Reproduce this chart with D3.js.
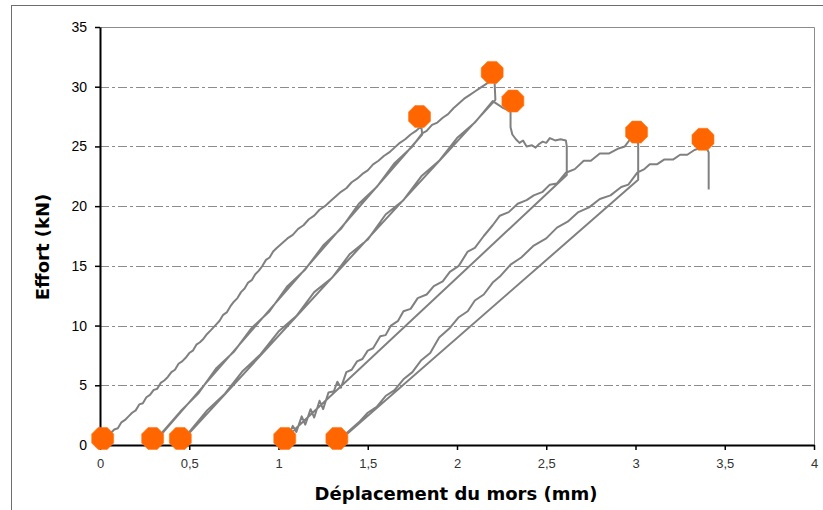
<!DOCTYPE html>
<html><head><meta charset="utf-8">
<script src="https://cdn.jsdelivr.net/npm/d3@7"></script>
<style>html,body{margin:0;padding:0;background:#fff;}svg{display:block;}</style>
</head><body>
<svg id="chart" width="823" height="510"></svg>
<script>
// ---- data (kN vs mm) ----
const load1 = [[0.04,0.7],[0.06,1.0],[0.08,1.3],[0.10,1.4],[0.12,1.9],[0.14,2.1],[0.16,2.4],[0.18,2.7],[0.20,2.9],[0.22,3.4],[0.24,3.5],[0.26,4.0],[0.28,4.2],[0.30,4.6],[0.32,4.7],[0.34,5.2],[0.36,5.4],[0.38,5.7],[0.40,6.1],[0.42,6.3],[0.44,6.8],[0.46,7.0],[0.48,7.3],[0.50,7.7],[0.52,7.9],[0.54,8.4],[0.56,8.6],[0.58,8.9],[0.60,9.3],[0.62,9.6],[0.645,10.0],[0.67,10.4],[0.69,10.9],[0.71,11.1],[0.73,11.6],[0.75,12.0],[0.77,12.3],[0.79,12.8],[0.81,13.1],[0.83,13.6],[0.85,13.8],[0.87,14.3],[0.89,14.6],[0.91,15.0],[0.93,15.5],[0.95,15.7],[0.97,16.2],[0.99,16.5],[1.02,16.9],[1.05,17.3],[1.08,17.6],[1.11,18.1],[1.14,18.4],[1.17,18.9],[1.20,19.2],[1.23,19.7],[1.26,20.0],[1.29,20.4],[1.32,20.8],[1.35,21.2],[1.38,21.5],[1.41,22.0],[1.44,22.3],[1.47,22.7],[1.50,23.0],[1.53,23.5],[1.56,23.8],[1.59,24.2],[1.62,24.5],[1.65,24.9],[1.68,25.3],[1.71,25.6],[1.74,26.0],[1.77,26.3],[1.80,26.7],[1.805,26.0]];
const unload1 = [[1.805,26.0],[0.35,1.0]];
const load2 = [[0.34,0.9],[0.45,2.8],[0.55,4.3],[0.65,6.4],[0.75,7.8],[0.85,9.8],[0.95,11.2],[1.05,13.3],[1.15,14.7],[1.25,16.7],[1.35,18.1],[1.45,20.2],[1.55,21.6],[1.65,23.6],[1.75,25.0],[1.805,26.1],[1.83,26.3],[1.86,26.8],[1.89,27.0],[1.92,27.4],[1.95,27.7],[1.98,28.2],[2.01,28.6],[2.04,29.0],[2.07,29.3],[2.10,29.6],[2.13,29.9],[2.16,30.2],[2.19,30.5],[2.21,30.6],[2.215,28.9]];
const unload2 = [[2.215,28.9],[0.50,1.0]];
const load3 = [[0.49,0.9],[0.60,2.9],[0.70,4.3],[0.80,6.2],[0.90,7.6],[1.00,9.5],[1.10,10.8],[1.20,12.8],[1.30,14.0],[1.40,16.0],[1.50,17.2],[1.60,19.3],[1.70,20.5],[1.80,22.5],[1.90,23.8],[2.00,25.7],[2.10,27.0],[2.20,28.8],[2.23,28.5],[2.26,28.2],[2.29,28.0],[2.30,27.9],[2.30,26.6],[2.31,26.0],[2.33,25.6],[2.35,25.3],[2.37,25.5],[2.39,25.0],[2.42,25.1],[2.44,24.9],[2.46,25.2],[2.48,25.4],[2.50,25.3],[2.52,25.7],[2.55,25.5],[2.58,25.6],[2.61,25.5],[2.615,25.0],[2.615,22.6]];
const unload3 = [[2.615,22.6],[1.07,1.0]];
const load4 = [[1.06,0.9],[1.08,1.6],[1.10,1.1],[1.13,2.4],[1.15,1.7],[1.18,3.0],[1.20,2.3],[1.23,3.7],[1.25,3.0],[1.28,4.4],[1.31,4.5],[1.33,5.3],[1.35,4.8],[1.38,6.1],[1.41,6.3],[1.44,7.0],[1.47,7.2],[1.50,7.9],[1.53,8.1],[1.57,9.1],[1.60,9.2],[1.63,10.0],[1.67,10.4],[1.70,11.2],[1.74,11.4],[1.78,12.3],[1.83,12.6],[1.87,13.3],[1.92,13.7],[1.96,14.5],[2.01,15.0],[2.06,16.2],[2.10,16.5],[2.15,17.5],[2.20,18.4],[2.24,19.2],[2.29,19.5],[2.34,20.2],[2.39,20.5],[2.43,20.9],[2.48,21.2],[2.52,21.8],[2.56,21.9],[2.61,22.8],[2.66,23.1],[2.71,23.8],[2.75,23.8],[2.80,24.4],[2.85,24.4],[2.90,24.8],[2.94,25.0],[2.97,25.6],[3.00,25.7],[3.015,25.2],[3.015,22.2]];
const unload4 = [[3.015,22.2],[1.39,1.0]];
const load5 = [[1.37,0.9],[1.39,1.1],[1.45,1.9],[1.50,2.7],[1.55,3.2],[1.60,4.1],[1.65,4.6],[1.70,5.5],[1.75,6.1],[1.80,7.1],[1.85,7.7],[1.90,9.0],[1.96,9.8],[2.01,10.7],[2.06,11.2],[2.10,12.1],[2.15,12.6],[2.20,13.6],[2.24,14.1],[2.30,15.1],[2.36,15.7],[2.43,16.7],[2.50,17.3],[2.56,18.2],[2.62,18.7],[2.68,19.5],[2.74,19.9],[2.80,20.6],[2.86,20.9],[2.92,21.6],[2.96,21.8],[3.01,22.8],[3.05,23.1],[3.08,23.5],[3.12,23.5],[3.16,23.9],[3.21,23.9],[3.25,24.3],[3.29,24.3],[3.33,24.7],[3.37,24.9],[3.40,24.8],[3.41,24.5],[3.41,21.4]];
const startMarkers = [[0.015,0.55],[0.295,0.55],[0.45,0.55],[1.035,0.55],[1.327,0.55]];
const peakMarkers = [[1.79,27.5],[2.197,31.2],[2.313,28.8],[3.006,26.2],[3.378,25.6]];
const xTickValues = [0,0.5,1,1.5,2,2.5,3,3.5,4];
const xTickLabels = ["0","0,5","1","1,5","2","2,5","3","3,5","4"];
const yTickValues = [0,5,10,15,20,25,30,35];
const yTickLabels = ["0","5","10","15","20","25","30","35"];
const xTitle = "Déplacement du mors (mm)";
const yTitle = "Effort (kN)";

// ---- drawing ----
const svg = d3.select("#chart");
const x = d3.scaleLinear().domain([0,4]).range([100,814]);
const y = d3.scaleLinear().domain([0,35]).range([445,27]);

// outer border (right/bottom edges fall outside the picture)
svg.append("rect").attr("x",11.5).attr("y",5.5).attr("width",900).attr("height",600)
  .attr("fill","none").attr("stroke","#6e6e6e").attr("stroke-width",1);

// gridlines
svg.append("g").selectAll("line").data(yTickValues.filter(v=>v>0 && v<35)).join("line")
  .attr("x1",x(0)).attr("x2",x(4)).attr("y1",d=>Math.round(y(d))+0.5).attr("y2",d=>Math.round(y(d))+0.5)
  .attr("stroke","#8c8c8c").attr("stroke-width",1).attr("stroke-dasharray","9,3,3,3");
// plot area top/right border
svg.append("path").attr("d",`M${x(0)},${Math.round(y(35))+0.5}H${x(4)+0.5}V${y(0)}`)
  .attr("fill","none").attr("stroke","#8c8c8c").attr("stroke-width",1);

// axes
const yAxis = d3.axisLeft(y).tickValues(yTickValues).tickFormat((d,i)=>yTickLabels[i]).tickSize(5).tickPadding(8).tickSizeOuter(0);
const gy = svg.append("g").attr("transform",`translate(${x(0)},0)`).call(yAxis);
gy.select(".domain").attr("stroke","#000").attr("stroke-width",2);
gy.selectAll(".tick line").attr("stroke","#000").attr("stroke-width",1.5);
gy.selectAll("text").attr("font-family","Liberation Sans, Arial, sans-serif").attr("font-size",14).attr("fill","#000");

const xAxis = d3.axisBottom(x).tickValues(xTickValues).tickFormat((d,i)=>xTickLabels[i]).tickSize(5).tickPadding(9).tickSizeOuter(0);
const gx = svg.append("g").attr("transform",`translate(0,${y(0)})`).call(xAxis);
gx.select(".domain").attr("stroke","#000").attr("stroke-width",2);
gx.selectAll(".tick line").attr("stroke","#000").attr("stroke-width",1.5);
gx.selectAll("text").attr("font-family","Liberation Sans, Arial, sans-serif").attr("font-size",13).attr("fill","#333");

// titles
svg.append("text").attr("x",456).attr("y",500).attr("text-anchor","middle")
  .attr("font-family","DejaVu Sans, sans-serif").attr("font-weight","bold").attr("font-size",18)
  .attr("fill","#000").text(xTitle);
svg.append("text").attr("transform","translate(49,247) rotate(-90)").attr("text-anchor","middle")
  .attr("font-family","DejaVu Sans, sans-serif").attr("font-weight","bold").attr("font-size",18)
  .attr("fill","#000").text(yTitle);

// curve
const curvePts = [].concat(load1, unload1, load2, unload2, load3, unload3, load4, unload4, load5);
const line = d3.line().x(d=>x(d[0])).y(d=>y(d[1]));
svg.append("path").datum(curvePts).attr("d",line)
  .attr("fill","none").attr("stroke","#808080").attr("stroke-width",2).attr("stroke-linejoin","round");

// octagon markers
const R = 11.9;
const octagon = () => {
  const p = d3.path();
  for (let k=0;k<8;k++){
    const a = Math.PI/8 + k*Math.PI/4;
    const px = R*Math.cos(a), py = R*Math.sin(a);
    if (k===0) p.moveTo(px,py); else p.lineTo(px,py);
  }
  p.closePath();
  return p.toString();
};
svg.append("g").selectAll("path").data(startMarkers.concat(peakMarkers)).join("path")
  .attr("transform",d=>`translate(${x(d[0])},${y(d[1])})`)
  .attr("d",octagon()).attr("fill","#ff6600").attr("stroke","#ff7a1f").attr("stroke-width",0.6);
</script>
</body></html>
